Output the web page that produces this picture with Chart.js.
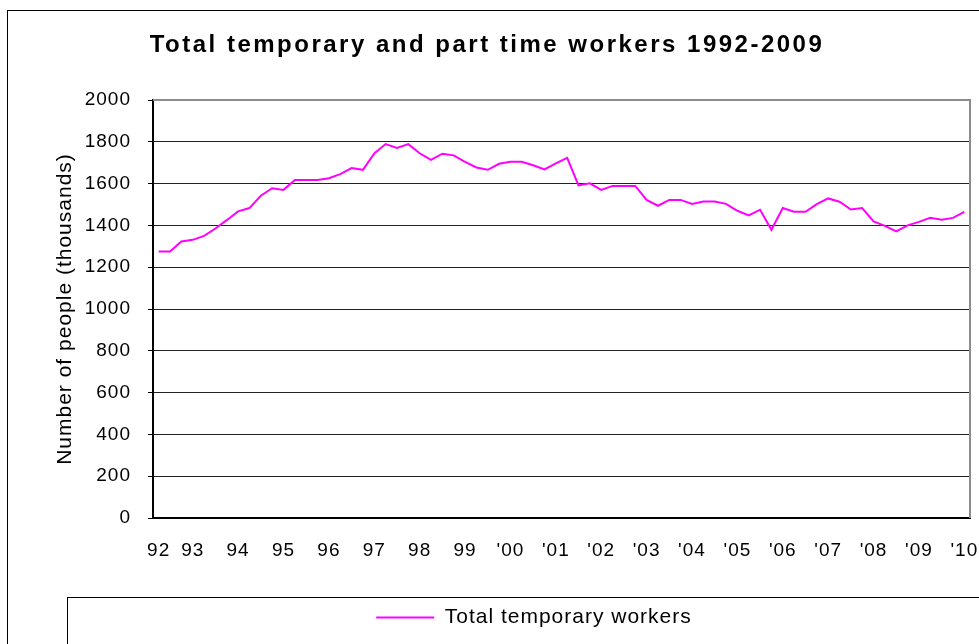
<!DOCTYPE html>
<html lang="en">
<head>
    <meta charset="UTF-8">
    <title>Total temporary and part time workers 1992-2009</title>
    <script src="https://cdn.jsdelivr.net/npm/chart.js"></script>
    <style>
        html, body { margin: 0; padding: 0; background: #fff; }
        .chart-box { width: 979px; height: 644px; }
    </style>
</head>
<body>
<div class="chart-box">
    <canvas id="workersChart" width="979" height="644"></canvas>
</div>

<script>
    // Quarterly figures, 1992 Q2 to 2010 Q1 (thousands)
    const firstYear = 1992;
    const yearTicks = ['92', '93', '94', '95', '96', '97', '98', '99', "'00", "'01",
                       "'02", "'03", "'04", "'05", "'06", "'07", "'08", "'09", "'10"];
    const tempWorkers = [
        1275, 1275, 1323, 1331, 1350, 1385, 1425, 1467, 1483, 1542,
        1578, 1570, 1617, 1617, 1617, 1626, 1645, 1674, 1666, 1744,
        1789, 1771, 1789, 1745, 1714, 1743, 1735, 1704, 1677, 1666,
        1695, 1704, 1704, 1688, 1668, 1697, 1723, 1591, 1601, 1570,
        1589, 1589, 1589, 1522, 1494, 1522, 1522, 1503, 1514, 1514,
        1503, 1470, 1448, 1475, 1379, 1483, 1465, 1465, 1502, 1529,
        1513, 1476, 1483, 1419, 1398, 1371, 1400, 1417, 1436, 1427,
        1436, 1465
    ];
    const yTicks = [0, 200, 400, 600, 800, 1000, 1200, 1400, 1600, 1800, 2000];

    // category labels, one per quarter
    const quarters = [];
    for (let y = 0; y < yearTicks.length; y++) {
        for (let q = 1; q <= 4; q++) {
            if (y === 0 && q === 1) continue;
            if (quarters.length < tempWorkers.length) quarters.push((firstYear + y) + ' Q' + q);
        }
    }

    const chartTitle = 'Total temporary and part time workers 1992-2009';
    Chart.defaults.font.family = '"Liberation Sans", Arial, sans-serif';
    Chart.defaults.color = '#000';

    // frame, legend box, plot border and title like the excel export
    const framePlugin = {
        id: 'frame',
        beforeDraw(chart) {
            chart.ctx.letterSpacing = '1px';
        },
        beforeDatasetsDraw(chart) {
            chart.ctx.letterSpacing = '0px';
        },
        afterDraw(chart) {
            const ctx = chart.ctx;
            const a = chart.chartArea;
            ctx.save();
            ctx.strokeStyle = '#8c8c8c';
            ctx.lineWidth = 2;
            ctx.beginPath();
            ctx.moveTo(a.left, a.top);
            ctx.lineTo(a.right, a.top);
            ctx.lineTo(a.right, a.bottom);
            ctx.stroke();

            ctx.strokeStyle = '#000';
            ctx.lineWidth = 1;
            ctx.strokeRect(7.5, 10.5, chart.width, chart.height);
            ctx.strokeRect(67.5, 597.5, chart.width, chart.height);

            ctx.font = 'bold 24px "Liberation Sans", Arial, sans-serif';
            ctx.letterSpacing = '2.5px';
            ctx.textAlign = 'center';
            ctx.textBaseline = 'middle';
            ctx.fillStyle = '#000';
            ctx.fillText(chartTitle, 487, 45);
            ctx.restore();
        }
    };

    const ctxWorkers = document.getElementById('workersChart').getContext('2d');
    const workersChart = new Chart(ctxWorkers, {
        type: 'line',
        data: {
            labels: quarters,
            datasets: [{
                label: 'Total temporary workers',
                data: tempWorkers,
                borderColor: '#ff00ff',
                backgroundColor: '#ff00ff',
                borderWidth: 2,
                pointRadius: 0,
                tension: 0
            }]
        },
        options: {
            responsive: false,
            animation: false,
            layout: {
                padding: { top: 100, left: 75, right: 9, bottom: 6 }
            },
            plugins: {
                legend: {
                    position: 'bottom',
                    labels: {
                        boxWidth: 58,
                        boxHeight: 0,
                        padding: 10,
                        font: { size: 21 },
                        color: '#000'
                    }
                },
                tooltip: { enabled: false }
            },
            scales: {
                x: {
                    type: 'category',
                    offset: true,
                    grid: { display: false, drawTicks: false },
                    border: { display: true, color: '#000', width: 2 },
                    ticks: {
                        autoSkip: false,
                        maxRotation: 0,
                        minRotation: 0,
                        padding: 0,
                        font: { size: 19, lineHeight: '66px' },
                        callback: function (value, index) {
                            const label = this.getLabelForValue(value);
                            const parts = label.split(' Q');
                            if (index === 0 || parts[1] === '1') {
                                return yearTicks[parseInt(parts[0], 10) - firstYear];
                            }
                            return '';
                        }
                    },
                    afterFit: function (scale) { scale.height = 79; }
                },
                y: {
                    min: yTicks[0],
                    max: yTicks[yTicks.length - 1],
                    afterBuildTicks: function (scale) {
                        scale.ticks = yTicks.map(v => ({ value: v }));
                    },
                    ticks: {
                        padding: 17,
                        font: { size: 19 },
                        callback: v => String(v)
                    },
                    grid: {
                        color: c => (c.tick && c.tick.value === 2000) ? '#8c8c8c' : '#222',
                        lineWidth: 1,
                        tickLength: 5,
                        tickColor: '#000'
                    },
                    border: { color: '#000', width: 2 },
                    title: {
                        display: true,
                        text: 'Number of people (thousands)',
                        font: { size: 21 },
                        padding: { top: -22.6, bottom: 0 }
                    },
                    afterFit: function (scale) { scale.width = 78; }
                }
            }
        },
        plugins: [framePlugin]
    });
</script>
</body>
</html>
